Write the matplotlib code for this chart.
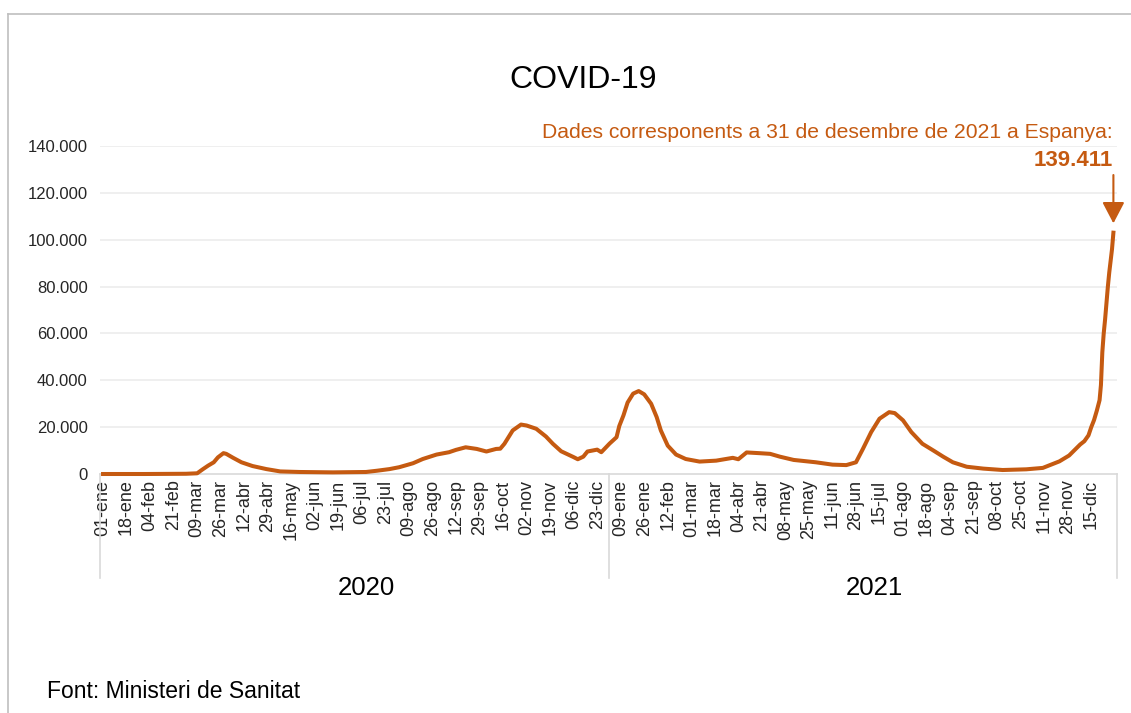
import matplotlib
matplotlib.use('Agg')
import matplotlib.pyplot as plt
import matplotlib.transforms as mtransforms
import datetime as dt

plt.rcParams['font.family'] = ['Liberation Sans', 'DejaVu Sans']

# Casos (dies des de l'1 de gener de 2020), llegits del grafic
dies = [0, 30, 60, 68, 72, 76, 80, 83, 87, 89, 94, 100, 108, 118, 128, 142, 166,
        190, 198, 207, 214, 224, 231, 241, 250, 255, 262, 270, 277, 284, 287, 290,
        296, 302, 306, 313, 320, 325, 331, 340, 343, 347, 350, 357, 360, 366, 371,
        373, 376, 379, 383, 387, 391, 396, 400, 403, 408, 414, 421, 431, 443, 455,
        459, 465, 474, 482, 489, 499, 515, 527, 537, 544, 549, 555, 561, 568, 572,
        578, 584, 592, 600, 607, 614, 624, 636, 650, 667, 679, 691, 698, 706, 709,
        712, 714, 716, 718, 720, 721, 722, 723, 724, 725, 726, 727, 728, 729, 730]
casos = [0, 0, 100, 300, 2000, 3600, 5000, 7100, 8900, 8600, 6900, 5000, 3400, 2100,
         1100, 860, 700, 860, 1400, 2100, 2900, 4600, 6400, 8300, 9300, 10300, 11400,
         10700, 9600, 10700, 10800, 12900, 18600, 21100, 20700, 19300, 16000, 12900,
         9700, 7200, 6300, 7400, 9600, 10400, 9300, 13000, 15700, 20500, 25000, 30500,
         34300, 35400, 34000, 30000, 24300, 18600, 12100, 8300, 6400, 5300, 5700, 6900,
         6300, 9200, 8900, 8600, 7400, 6000, 5000, 4000, 3800, 5000, 10700, 17900,
         23600, 26400, 26000, 22900, 17900, 12900, 10000, 7400, 5000, 3100, 2300, 1700,
         2000, 2600, 5400, 7900, 12600, 14000, 16500, 20000, 23000, 27000, 31500, 38000,
         52000, 60000, 66000, 73000, 80000, 86000, 91000, 96000, 103000]

mesos = ['ene', 'feb', 'mar', 'abr', 'may', 'jun', 'jul', 'ago', 'sep', 'oct', 'nov', 'dic']
anys = ['2020', '2021']
valor_final = '139.411'

inici = dt.date(2020, 1, 1)
tick_dies = list(range(0, 731, 17))
tick_labels = []
for d in tick_dies:
    data = inici + dt.timedelta(days=d)
    tick_labels.append(f'{data.day:02d}-{mesos[data.month - 1]}')

taronja = '#C55A11'
W, H = 1131, 713

fig = plt.figure(figsize=(W / 100, H / 100), dpi=100)
fig.patch.set_facecolor('white')

# marc exterior
fig.add_artist(plt.Line2D([8 / W, 8 / W], [0, 1 - 14 / H], color='#BFBFBF', lw=1.2))
fig.add_artist(plt.Line2D([8 / W, 1], [1 - 14 / H, 1 - 14 / H], color='#BFBFBF', lw=1.2))

ax = fig.add_axes([100 / W, 1 - 474 / H, 1017 / W, 328 / H])
ax.plot(dies, casos, color=taronja, lw=2.9, clip_on=False, zorder=3, solid_joinstyle='round')

ax.set_xlim(-2.2, 732.6)
ax.set_ylim(0, 140000)
ax.set_yticks(range(0, 140001, 20000))
ax.set_yticklabels([f'{v:,}'.replace(',', '.') for v in range(0, 140001, 20000)])
ax.set_xticks(tick_dies)
ax.set_xticklabels(tick_labels, rotation=90)
ax.tick_params(axis='y', length=0, pad=9, labelsize=12, labelcolor='#262626')
ax.tick_params(axis='x', length=0, pad=4, labelsize=13, labelcolor='#262626')

for s in ['top', 'right', 'left']:
    ax.spines[s].set_visible(False)
ax.spines['bottom'].set_color('#D9D9D9')
ax.spines['bottom'].set_linewidth(1.2)
for v in range(20000, 140001, 20000):
    ax.axhline(v, color='#EBEBEB', lw=1.1, zorder=1)

# separadors d'any
trans = mtransforms.blended_transform_factory(ax.transData, ax.transAxes)
for x in [-2.2, 365.5, 732.6]:
    ax.plot([x, x], [0, -104 / 328], color='#D9D9D9', lw=1.2, transform=trans, clip_on=False)

trans_fig = mtransforms.blended_transform_factory(ax.transData, fig.transFigure)
for x, any_ in zip([190, 557], anys):
    ax.text(x, 1 - 588 / H, any_, transform=trans_fig, ha='center', va='center',
            fontsize=18.5, color='black')

# anotacio
ax.text(1113 / W, 1 - 133 / H, 'Dades corresponents a 31 de desembre de 2021 a Espanya:',
        transform=fig.transFigure, ha='right', va='center', fontsize=15.2, color=taronja)
ax.text(1113 / W, 1 - 160 / H, valor_final, transform=fig.transFigure, ha='right',
        va='center', fontsize=16, fontweight='bold', color=taronja)
ax.annotate('', xy=(730, 105800), xytext=(730, 128800),
            arrowprops=dict(arrowstyle='-|>,head_length=0.65,head_width=0.34',
                            mutation_scale=20, color=taronja, lw=1.5),
            annotation_clip=False)

fig.text(583 / W, 1 - 80 / H, 'COVID-19', ha='center', va='center', fontsize=23, color='black')
fig.text(47 / W, 1 - 691 / H, 'Font: Ministeri de Sanitat', ha='left', va='center',
         fontsize=16.5, color='black')

fig.savefig('out.png', dpi=100, facecolor='white')
